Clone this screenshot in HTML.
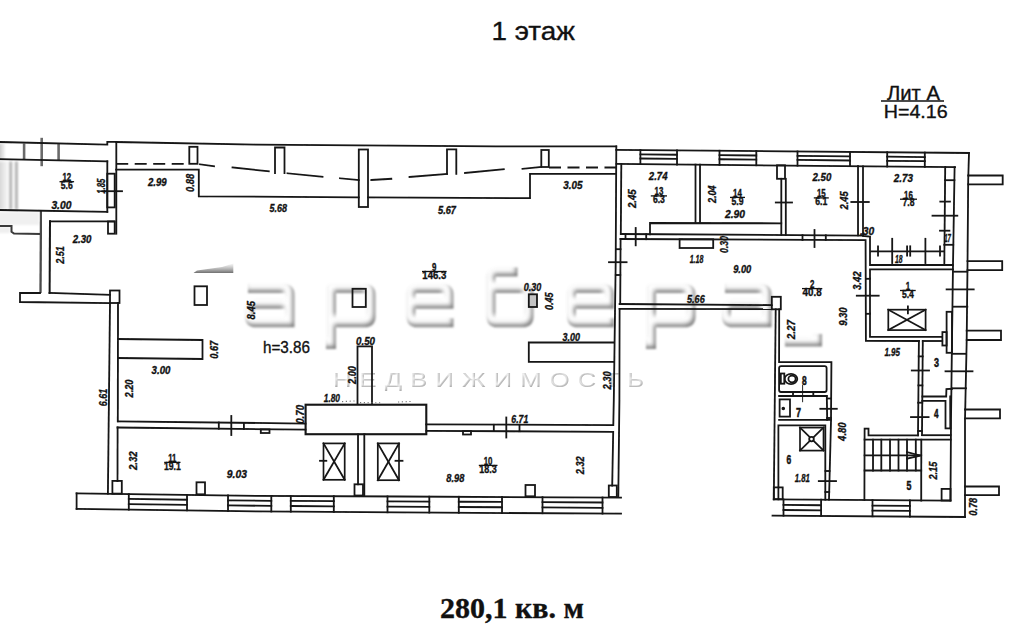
<!DOCTYPE html>
<html><head><meta charset="utf-8"><title>1 этаж</title>
<style>
html,body{margin:0;padding:0;background:#fff;}
body{width:1024px;height:638px;overflow:hidden;position:relative;font-family:"Liberation Sans",sans-serif;}
svg{position:absolute;left:0;top:0;}
.p line,.p polyline,.p rect,.p path,.p circle,.p ellipse{fill:none;stroke:#141414;stroke-width:1.8;stroke-linecap:square;}
.g line,.g polyline,.g rect{fill:none;stroke:#7a7a7a;stroke-width:1.3;}
text{font-family:"Liberation Sans",sans-serif;fill:#111;stroke:#111;stroke-width:0.35;}
.d{font-style:italic;font-weight:bold;}
.l{font-weight:bold;}
.n{font-weight:bold;stroke-width:0.55;}
.t{font-size:26px;}
.f{font-family:"Liberation Serif",serif;font-weight:bold;}
</style></head><body>
<svg width="1024" height="638" viewBox="0 0 1024 638">
<defs>
<filter id="soft" x="-2%" y="-2%" width="104%" height="104%"><feGaussianBlur stdDeviation="0.35"/></filter>
<filter id="emb" x="-5%" y="-20%" width="110%" height="140%"><feOffset in="SourceAlpha" dx="-2.4" dy="-3.2" result="o"/><feGaussianBlur in="o" stdDeviation="2.1" result="b"/><feComposite in="SourceAlpha" in2="b" operator="out" result="inner"/><feFlood flood-color="#7a7a7a"/><feComposite in2="inner" operator="in"/><feGaussianBlur stdDeviation="0.8"/></filter>
<filter id="emb2" x="-5%" y="-20%" width="110%" height="140%"><feOffset in="SourceAlpha" dx="-1.4" dy="-1.2" result="o"/><feGaussianBlur in="o" stdDeviation="0.9" result="b"/><feComposite in="SourceAlpha" in2="b" operator="out" result="inner"/><feFlood flood-color="#8a8a8a"/><feComposite in2="inner" operator="in"/><feGaussianBlur stdDeviation="0.5"/></filter>
<linearGradient id="gG" gradientUnits="userSpaceOnUse" x1="0" y1="263" x2="0" y2="273"><stop offset="0" stop-color="#9a9a9a" stop-opacity="0"/><stop offset="0.5" stop-color="#909090" stop-opacity="0.55"/><stop offset="1" stop-color="#707070" stop-opacity="1"/></linearGradient>
<linearGradient id="gl" x1="0" y1="0" x2="1" y2="0"><stop offset="0" stop-color="#b8b8b8"/><stop offset="1" stop-color="#f4f4f4"/></linearGradient>
<filter id="b1"><feGaussianBlur stdDeviation="1.2"/></filter>
<filter id="b2"><feGaussianBlur stdDeviation="0.7"/></filter>
</defs>

<path d="M 197,270.5 L 222,267 L 233.3,263.5 V 273 H 193.5 Z" fill="url(#gG)" filter="url(#b2)"/>
<g id="wm" filter="url(#emb)" fill="none" stroke="#000" stroke-width="9" stroke-linejoin="round" stroke-linecap="butt">
<path d="M 248,288.5 H 284 Q 290,288.5 290,294.5 V 322.8 M 294.5,322.8 H 255.5 Q 249.5,322.8 249.5,316.8 V 310.2 Q 249.5,304.2 255.5,304.2 H 290"/>
<path d="M 331.5,342.5 V 288.5 H 365 Q 371,288.5 371,294.5 V 316.8 Q 371,322.8 365,322.8 H 331.5 M 326,344.5 H 336" />
<path d="M 453.5,322.8 H 417.0 Q 411.0,322.8 411.0,316.8 V 294.5 Q 411.0,288.5 417.0,288.5 H 443.0 Q 449.0,288.5 449.0,294.5 V 304.2 M 453.5,304.2 H 411.0"/>
<path d="M 517.5,272 H 497.0 Q 491.0,272 491.0,278 V 316.8 Q 491.0,322.8 497.0,322.8 H 523.0 Q 529.0,322.8 529.0,316.8 V 294.5 Q 529.0,288.5 523.0,288.5 H 491.0"/>
<path d="M 614,322.8 H 577.5 Q 571.5,322.8 571.5,316.8 V 294.5 Q 571.5,288.5 577.5,288.5 H 603.5 Q 609.5,288.5 609.5,294.5 V 304.2 M 614,304.2 H 571.5"/>
<path d="M 651.5,342.5 V 288.5 H 685 Q 691,288.5 691,294.5 V 316.8 Q 691,322.8 685,322.8 H 651.5 M 646,344.5 H 656" />
<path d="M 725,288.5 H 761 Q 767,288.5 767,294.5 V 322.8 M 771.5,322.8 H 732.5 Q 726.5,322.8 726.5,316.8 V 310.2 Q 726.5,304.2 732.5,304.2 H 767"/>
<path d="M 785,342 H 817.5 V 334" stroke-linejoin="miter"/>
</g>
<g filter="url(#emb2)" opacity="0.8"><text transform="translate(333,386.5) scale(1.22,1)" font-size="21" textLength="255" lengthAdjust="spacing" style="stroke:none;fill:#000">НЕДВИЖИМОСТЬ</text></g>
<text class="t" x="491.5" y="40.4" font-size="27.3" textLength="83.5" lengthAdjust="spacingAndGlyphs">1 этаж</text>
<text class="f" x="440" y="618" font-size="28.5" textLength="144" lengthAdjust="spacingAndGlyphs">280,1 кв. м</text>
<text x="887" y="99.7" font-size="19.5" textLength="53" lengthAdjust="spacingAndGlyphs">Лит А</text>
<line x1="881" y1="100.9" x2="944" y2="100.9" stroke="#111" stroke-width="1.5"/>
<text x="883.7" y="118.1" font-size="18.7" textLength="64" lengthAdjust="spacingAndGlyphs">H=4.16</text>
<text x="263" y="352.5" font-size="16.5" textLength="47" lengthAdjust="spacingAndGlyphs">h=3.86</text>
<g filter="url(#b1)">
<rect x="-3" y="143.5" width="8" height="16.5" fill="url(#gl)"/>
<rect x="-3" y="161.5" width="11" height="48" fill="url(#gl)" opacity="0.7"/>
<rect x="9.2" y="161.5" width="3" height="48" fill="#b4b4b4"/>
<rect x="14.899999999999999" y="161.5" width="3" height="48" fill="#b4b4b4"/>
<rect x="-3" y="212" width="42" height="13" fill="#f0f0f0"/>
<rect x="-3" y="227" width="13" height="6" fill="#efefef"/>
</g>
<g class="g" filter="url(#b2)">
<line x1="24.1" y1="143.5" x2="24.1" y2="160" style="stroke-width:2.6;stroke:#6a6a6a"/>
<line x1="41.7" y1="137.8" x2="41.7" y2="166.2" style="stroke-width:2.6;stroke:#6a6a6a"/>
<line x1="58.6" y1="144" x2="58.6" y2="160.5" style="stroke-width:2.6;stroke:#6a6a6a"/>
</g>
<g class="g" filter="url(#soft)">
<polyline points="0,225.9 11.5,225.9 11.5,231.8 14,233.6 40.8,234" style="stroke-width:2;stroke:#3a3a3a"/>
<line x1="41" y1="211" x2="40.5" y2="293" style="stroke-width:2.3;stroke:#4a4a4a"/>
</g>
<g class="p" filter="url(#soft)">
<polyline points="0,142 107.3,144.6 107.3,141.9 116.3,141.9"/>
<line x1="0" y1="159.2" x2="107.3" y2="161.3"/>
<line x1="0" y1="210" x2="107.3" y2="211.8"/>
<line x1="50" y1="221.3" x2="49.6" y2="293" style="stroke-width:2"/>
<line x1="50" y1="221.3" x2="114.3" y2="221.3"/>
<line x1="107.3" y1="161.3" x2="107.3" y2="211.8"/>
<line x1="116.3" y1="141.9" x2="116.3" y2="233.7"/>
<rect x="107.3" y="173.7" width="7.4" height="33.7"/>
<line x1="102.3" y1="191.2" x2="122" y2="191.2"/>
<rect x="108" y="221.5" width="6.7" height="12.2"/>
<polyline points="116.2,142 256,144.7 496,146.3 616.2,146.3"/>
<line x1="116.2" y1="163.8" x2="189" y2="163.8" style="stroke-dasharray:12 6.5;stroke-linecap:butt"/>
<polyline points="116.2,169.7 198.8,169.7 198.8,196.3 358.7,197.3"/>
<polyline points="368,197.4 530,198.2 530,173.8 616,173.8"/>
<rect x="189.3" y="146.8" width="8.2" height="17.0"/>
<polyline points="275,173 275,147.5 284.5,147.5 284.5,173"/>
<rect x="358.8" y="149.5" width="9.2" height="57.5"/>
<polyline points="447,173.8 447,149.3 456.3,149.3 456.3,173.8"/>
<rect x="541.3" y="150" width="7.5" height="17"/>
<line x1="200" y1="164.3" x2="214" y2="166.3"/>
<line x1="232.5" y1="167.5" x2="268.8" y2="171.3"/>
<line x1="287.5" y1="173.3" x2="322.5" y2="176.8"/>
<line x1="340" y1="178.3" x2="358.8" y2="180"/>
<line x1="371.3" y1="180" x2="391.3" y2="178.8"/>
<line x1="409.5" y1="177" x2="447" y2="174"/>
<line x1="465" y1="173" x2="503.8" y2="169.3"/>
<line x1="522.5" y1="168.8" x2="541" y2="167"/>
<line x1="549" y1="167.5" x2="616" y2="167.5" style="stroke-dasharray:12 6.5;stroke-linecap:butt"/>
<polyline points="40,293 20,293 20,302 110,303.2"/>
<line x1="49.5" y1="293" x2="110" y2="294.8"/>
<rect x="110" y="290.5" width="9.5" height="12.5"/>
<line x1="110" y1="303" x2="107.9" y2="493.5"/>
<line x1="118" y1="303" x2="117.8" y2="421.3"/>
<line x1="117.6" y1="427.5" x2="117.5" y2="481"/>
<polyline points="118,339 202.5,340 202.5,359 118,358"/>
<rect x="194.5" y="286.3" width="12.5" height="18.7"/>
<rect x="352.5" y="288.8" width="13.3" height="18.2"/>
<rect x="528.8" y="294.3" width="8.2" height="12.7" style="fill:#c4c4c4"/>
<polyline points="357.5,403.8 357.5,346.3 372,346.3 372,403.8"/>
<rect x="305.6" y="404.7" width="120.7" height="29.5" style="stroke-width:2.1"/>
<polyline points="613.8,342.5 528.8,342.5 528.8,361.8 613.6,361.8"/>
<line x1="118" y1="421.3" x2="305.5" y2="423.6"/>
<line x1="117.5" y1="427.5" x2="305.5" y2="429.7"/>
<line x1="218.8" y1="422.5" x2="218.8" y2="428.7"/>
<line x1="243.9" y1="422.8" x2="243.9" y2="429"/>
<line x1="231.3" y1="416" x2="231.3" y2="435"/>
<rect x="260.8" y="429.5" width="8.7" height="3.5"/>
<line x1="426.3" y1="424.3" x2="613" y2="425.2"/>
<line x1="426.3" y1="430.8" x2="612" y2="431.8"/>
<line x1="493.8" y1="424.8" x2="493.8" y2="431"/>
<line x1="519.5" y1="424.8" x2="519.5" y2="431.2"/>
<line x1="506.3" y1="417.5" x2="506.3" y2="437.5"/>
<rect x="463" y="431" width="8" height="3.5"/>
<line x1="358" y1="434.5" x2="358" y2="484.3"/>
<line x1="364.3" y1="434.5" x2="364.3" y2="495.5"/>
<rect x="354.5" y="484.3" width="8.5" height="11.2"/>
<rect x="323.5" y="443.4" width="21.2" height="36.4" style="stroke-width:1.7"/>
<line x1="323.5" y1="443.4" x2="344.7" y2="479.8"/>
<line x1="323.5" y1="479.8" x2="344.7" y2="443.4"/>
<rect x="377.8" y="443.4" width="21.2" height="36.8" style="stroke-width:1.7"/>
<line x1="377.8" y1="443.4" x2="399" y2="480.2"/>
<line x1="377.8" y1="480.2" x2="399" y2="443.4"/>
<line x1="320" y1="460.8" x2="326.3" y2="460.8"/>
<line x1="395.5" y1="460.8" x2="402.5" y2="460.8"/>
<polyline points="76.6,493.4 256,495.9 400,496.5 621,497.6"/>
<polyline points="76.6,508.9 256,511.4 400,512.4 621,513.7"/>
<line x1="76.6" y1="493.4" x2="76.6" y2="508.9"/>
<line x1="128.8" y1="494.13" x2="128.8" y2="509.63"/>
<line x1="187" y1="494.94" x2="187" y2="510.44"/>
<line x1="128.8" y1="498.94" x2="187" y2="499.75"/>
<line x1="128.8" y1="504.05" x2="187" y2="504.86"/>
<line x1="228" y1="495.51" x2="228" y2="511.01"/>
<line x1="271.3" y1="495.96" x2="271.3" y2="511.51"/>
<line x1="228" y1="500.31" x2="271.3" y2="500.78"/>
<line x1="228" y1="505.43" x2="271.3" y2="505.91"/>
<line x1="290.8" y1="496.04" x2="290.8" y2="511.64"/>
<line x1="333.8" y1="496.22" x2="333.8" y2="511.94"/>
<line x1="290.8" y1="500.88" x2="333.8" y2="501.09"/>
<line x1="290.8" y1="506.02" x2="333.8" y2="506.28"/>
<line x1="387.5" y1="496.45" x2="387.5" y2="512.31"/>
<line x1="429.3" y1="496.65" x2="429.3" y2="512.57"/>
<line x1="387.5" y1="501.37" x2="429.3" y2="501.59"/>
<line x1="387.5" y1="506.6" x2="429.3" y2="506.84"/>
<line x1="458.8" y1="496.79" x2="458.8" y2="512.75"/>
<line x1="502" y1="497.01" x2="502" y2="513.0"/>
<line x1="458.8" y1="501.74" x2="502" y2="501.97"/>
<line x1="458.8" y1="507.0" x2="502" y2="507.24"/>
<line x1="542.5" y1="497.21" x2="542.5" y2="513.24"/>
<line x1="602.5" y1="497.51" x2="602.5" y2="513.59"/>
<line x1="542.5" y1="502.18" x2="602.5" y2="502.49"/>
<line x1="542.5" y1="507.47" x2="602.5" y2="507.8"/>
<rect x="112.4" y="480.9" width="9.4" height="12.7"/>
<rect x="196.5" y="482.3" width="8.5" height="12.0"/>
<rect x="525.5" y="485" width="9.5" height="11.3"/>
<rect x="608.8" y="485.5" width="8.0" height="11.5"/>
<polyline points="616.3,146.3 615.7,262 613.8,400 613.3,425.2"/>
<polyline points="613.2,431.8 612.2,485.5"/>
<polyline points="621.3,164 620.8,234"/>
<polyline points="620.6,239 620.2,304"/>
<polyline points="619.6,308.8 619.4,400 618.3,496"/>
<line x1="616" y1="249.2" x2="620.5" y2="249.2"/>
<line x1="615.8" y1="275" x2="620.3" y2="275"/>
<line x1="609" y1="262.2" x2="626.6" y2="262.2"/>
<polyline points="616.3,149.8 969,153"/>
<polyline points="616.5,163.9 955,167.2"/>
<line x1="640.4" y1="150.02" x2="640.4" y2="164.13"/>
<line x1="677" y1="150.35" x2="677" y2="164.49"/>
<line x1="640.4" y1="154.39" x2="677" y2="154.73"/>
<line x1="640.4" y1="158.49" x2="677" y2="158.83"/>
<line x1="719.5" y1="150.74" x2="719.5" y2="164.9"/>
<line x1="756.3" y1="151.07" x2="756.3" y2="165.26"/>
<line x1="719.5" y1="155.13" x2="756.3" y2="155.47"/>
<line x1="719.5" y1="159.24" x2="756.3" y2="159.58"/>
<line x1="797.5" y1="151.44" x2="797.5" y2="165.66"/>
<line x1="850" y1="151.92" x2="850" y2="166.18"/>
<line x1="797.5" y1="155.85" x2="850" y2="156.34"/>
<line x1="797.5" y1="159.97" x2="850" y2="160.48"/>
<line x1="887.2" y1="152.26" x2="887.2" y2="166.54"/>
<line x1="924.8" y1="152.6" x2="924.8" y2="166.91"/>
<line x1="887.2" y1="156.69" x2="924.8" y2="157.04"/>
<line x1="887.2" y1="160.83" x2="924.8" y2="161.19"/>
<polyline points="969,153 968.2,180 967.5,265 966.7,340 965,420 965,517"/>
<polyline points="954.6,167.2 953,265 952,340 951,420 950.5,500.5"/>
<polyline points="945.2,167 944.3,265"/>
<line x1="945.2" y1="180.2" x2="954.4" y2="180.2"/>
<polyline points="968.2,175.5 1002.7,175.5 1002.7,184.4 968.2,184.4"/>
<polyline points="967.5,261.2 1002.2,261.2 1002.2,270.2 967.5,270.2"/>
<polyline points="966.7,330.6 1001,330.6 1001,340 966.7,340"/>
<polyline points="965,409.5 1000,409.5 1000,418.4 965,418.4"/>
<polyline points="965,486.5 999,486.5 999,495.1 965,495.1"/>
<line x1="940.3" y1="201.6" x2="949.9" y2="201.6"/>
<line x1="932.5" y1="215.7" x2="957.3" y2="215.7"/>
<line x1="940" y1="230.7" x2="949.4" y2="230.7"/>
<line x1="944.3" y1="244.8" x2="953.2" y2="244.8"/>
<line x1="953" y1="271.7" x2="967.3" y2="271.7"/>
<line x1="953" y1="306.7" x2="967.3" y2="306.7"/>
<line x1="952" y1="353.8" x2="966" y2="353.8"/>
<line x1="952" y1="388.3" x2="966" y2="388.3"/>
<line x1="946.6" y1="289.4" x2="973.7" y2="289.4"/>
<line x1="945.5" y1="371.3" x2="972.5" y2="371.3"/>
<line x1="695.5" y1="164.6" x2="695.5" y2="223"/>
<line x1="700" y1="164.6" x2="700" y2="223"/>
<polyline points="650,234.3 650,223 781.3,223.3"/>
<line x1="781.3" y1="178.8" x2="781.3" y2="235"/>
<line x1="785.8" y1="178.8" x2="785.8" y2="235"/>
<rect x="777" y="165.3" width="8" height="13.5"/>
<line x1="858" y1="166.2" x2="858" y2="235.3"/>
<polyline points="863,166.3 863,236 870,236.5 870,265 952.8,265"/>
<line x1="621" y1="234" x2="863" y2="235.6"/>
<polyline points="620.5,239 865.6,240.2 865.9,340.8 918.9,341"/>
<line x1="625.5" y1="234.2" x2="625.5" y2="239"/>
<line x1="646.2" y1="234.3" x2="646.2" y2="239.2"/>
<line x1="635.7" y1="228" x2="635.7" y2="245.3"/>
<line x1="802.5" y1="235.2" x2="802.5" y2="240"/>
<line x1="825.8" y1="235.3" x2="825.8" y2="240"/>
<line x1="814.5" y1="230" x2="814.5" y2="247"/>
<line x1="775.8" y1="202.5" x2="792" y2="202.5"/>
<line x1="851.3" y1="202" x2="868.8" y2="202"/>
<rect x="679.6" y="239.3" width="33.6" height="8.7"/>
<line x1="871" y1="251.3" x2="944" y2="251.3"/>
<line x1="878" y1="246.3" x2="878" y2="255.7"/>
<line x1="907.1" y1="246.3" x2="907.1" y2="255.7"/>
<line x1="910.2" y1="246.3" x2="910.2" y2="255.7"/>
<line x1="940" y1="246.3" x2="940" y2="255.7"/>
<line x1="892.2" y1="238.8" x2="892.2" y2="263"/>
<line x1="925.4" y1="238.8" x2="925.4" y2="263"/>
<polyline points="952.8,269.4 870,269.4 870,336.8 942,336.8"/>
<line x1="922.8" y1="341" x2="942.2" y2="341"/>
<line x1="866" y1="278.8" x2="870" y2="278.8"/>
<line x1="866" y1="313.8" x2="870" y2="313.8"/>
<line x1="856.8" y1="295.7" x2="878.7" y2="295.7"/>
<rect x="888.3" y="309.7" width="37.3" height="20.4" style="stroke-width:1.7"/>
<line x1="888.3" y1="309.7" x2="925.6" y2="330.1"/>
<line x1="888.3" y1="330.1" x2="925.6" y2="309.7"/>
<line x1="907.9" y1="306.3" x2="907.9" y2="313.3"/>
<rect x="946.6" y="311.8" width="5.4" height="41.0"/>
<rect x="942.4" y="332.1" width="4.2" height="13.4"/>
<line x1="619.6" y1="304" x2="771.8" y2="305.1"/>
<line x1="619.6" y1="308.8" x2="771.8" y2="309.1"/>
<rect x="771.8" y="296.8" width="9.0" height="12.5"/>
<line x1="775.7" y1="309.3" x2="773.8" y2="499.4"/>
<polyline points="779.2,309.3 779.1,362.2 831.4,362.2 831,421 829,499.6"/>
<rect x="779.1" y="366.1" width="47.5" height="25.9" rx="2"/>
<polyline points="779.1,396 826.6,396"/>
<polyline points="826.8,396 827.2,419.8"/>
<line x1="779.1" y1="419.8" x2="831" y2="419.8"/>
<line x1="793" y1="392" x2="793" y2="396"/>
<line x1="813.3" y1="392" x2="813.3" y2="396"/>
<line x1="802.6" y1="385.3" x2="802.6" y2="401.7" style="stroke-width:0.9"/>
<line x1="827" y1="398.5" x2="831" y2="398.5"/>
<line x1="827" y1="418" x2="831" y2="418"/>
<line x1="820.3" y1="408.8" x2="836.8" y2="408.8"/>
<rect x="779.6" y="399.4" width="10.4" height="17.2"/>
<circle cx="783.3" cy="408.5" r="0.9" style="fill:#111"/>
<rect x="780.8" y="373.5" width="3.5" height="10.2"/>
<ellipse cx="791" cy="379" rx="6.3" ry="5.2"/>
<ellipse cx="792" cy="379" rx="3.6" ry="3.3"/>
<polyline points="778.4,499.4 778.4,425.3 825.3,425.3 825.3,499.5"/>
<rect x="800" y="427.6" width="23.5" height="23.0" style="stroke-width:1.7"/>
<line x1="800" y1="427.6" x2="823.5" y2="450.6"/>
<line x1="800" y1="450.6" x2="823.5" y2="427.6"/>
<circle cx="811.5" cy="439.1" r="2.3" style="fill:#fff"/>
<line x1="825.5" y1="471" x2="829.5" y2="471"/>
<line x1="825.4" y1="492" x2="829.2" y2="492"/>
<line x1="818.8" y1="481.1" x2="836" y2="481.1"/>
<rect x="773.8" y="487.4" width="8.9" height="11.8"/>
<polyline points="773.8,499.4 950.5,500.6"/>
<polyline points="772.5,515.6 965,517"/>
<line x1="783.5" y1="499.47" x2="783.5" y2="515.68"/>
<line x1="821.1" y1="499.72" x2="821.1" y2="515.95"/>
<line x1="783.5" y1="504.98" x2="821.1" y2="505.24"/>
<line x1="783.5" y1="510.01" x2="821.1" y2="510.27"/>
<line x1="872.5" y1="500.07" x2="872.5" y2="516.33"/>
<line x1="909.9" y1="500.32" x2="909.9" y2="516.6"/>
<line x1="872.5" y1="505.6" x2="909.9" y2="505.86"/>
<line x1="872.5" y1="510.64" x2="909.9" y2="510.9"/>
<rect x="941.6" y="488.9" width="8.9" height="11.6"/>
<line x1="918.9" y1="341" x2="918" y2="435.4"/>
<line x1="922.8" y1="341" x2="922" y2="435.2"/>
<line x1="918.7" y1="356.4" x2="922.7" y2="356.4"/>
<line x1="918.4" y1="385.4" x2="922.4" y2="385.4"/>
<line x1="911.8" y1="370.5" x2="929" y2="370.5"/>
<line x1="918.2" y1="402.7" x2="922.2" y2="402.7"/>
<line x1="918" y1="431" x2="922" y2="431"/>
<line x1="911" y1="417.1" x2="928.6" y2="417.1"/>
<polyline points="952,388.8 946.4,389 946.2,396.5 922.4,396.5"/>
<polyline points="922.3,400.8 945.5,400.8 945.5,428.3 950.3,428.3"/>
<line x1="950.2" y1="396.5" x2="950.3" y2="428.3"/>
<line x1="922.2" y1="435.2" x2="950.6" y2="435.2"/>
<line x1="864.6" y1="439.6" x2="950.6" y2="439.6"/>
<polyline points="864.4,500 864.6,428.6 868.5,428.6 868.5,435.4 918,435.4"/>
<line x1="873" y1="439.6" x2="873" y2="470.5"/>
<line x1="881.3" y1="439.6" x2="881.3" y2="470.5"/>
<line x1="890" y1="439.6" x2="890" y2="470.5"/>
<line x1="898.5" y1="439.6" x2="898.5" y2="470.5"/>
<line x1="907" y1="439.6" x2="907" y2="470.5"/>
<line x1="915.8" y1="439.6" x2="915.8" y2="470.5"/>
<line x1="864.6" y1="455.3" x2="921.2" y2="455.3"/>
<line x1="864.6" y1="470.5" x2="921.2" y2="470.5"/>
<line x1="921.3" y1="439.6" x2="921.2" y2="500.5"/>
<polyline points="907,452 920.4,455.5 907,458.6"/>
</g>
<g style="stroke:#777;stroke-width:1.1;stroke-dasharray:1.2 2.6;fill:none">
<line x1="342" y1="401.6" x2="357" y2="400.8"/>
<line x1="360" y1="402.6" x2="381" y2="402.8"/>
<line x1="398" y1="402" x2="412" y2="401.4"/>
</g>
<g>
<text class="d" x="148" y="185.5" font-size="11.4" textLength="18.7" lengthAdjust="spacingAndGlyphs">2.99</text>
<text class="d" x="51.4" y="208.5" font-size="11.4" textLength="20.0" lengthAdjust="spacingAndGlyphs">3.00</text>
<text class="d" x="72.7" y="242.5" font-size="11.4" textLength="18.8" lengthAdjust="spacingAndGlyphs">2.30</text>
<text class="d" x="269.5" y="212.3" font-size="11.4" textLength="17.5" lengthAdjust="spacingAndGlyphs">5.68</text>
<text class="d" x="438" y="213.8" font-size="11.4" textLength="18" lengthAdjust="spacingAndGlyphs">5.67</text>
<text class="d" x="563.3" y="188.8" font-size="11.4" textLength="19.2" lengthAdjust="spacingAndGlyphs">3.05</text>
<text class="d" x="151.6" y="373.5" font-size="11.4" textLength="18.8" lengthAdjust="spacingAndGlyphs">3.00</text>
<text class="d" x="562.5" y="340.5" font-size="11.4" textLength="17.5" lengthAdjust="spacingAndGlyphs">3.00</text>
<text class="d" x="356" y="345" font-size="11.4" textLength="19" lengthAdjust="spacingAndGlyphs">0.50</text>
<text class="d" x="323.8" y="401.8" font-size="11.4" textLength="16.2" lengthAdjust="spacingAndGlyphs">1.80</text>
<text class="d" x="523.8" y="291.3" font-size="11.4" textLength="17.5" lengthAdjust="spacingAndGlyphs">0.30</text>
<text class="d" x="226.8" y="478" font-size="11.4" textLength="20.1" lengthAdjust="spacingAndGlyphs">9.03</text>
<text class="d" x="446.3" y="482" font-size="11.4" textLength="18.0" lengthAdjust="spacingAndGlyphs">8.98</text>
<text class="d" x="511.3" y="423" font-size="11.4" textLength="17.0" lengthAdjust="spacingAndGlyphs">6.71</text>
<text class="d" x="687" y="302.5" font-size="11.4" textLength="17.7" lengthAdjust="spacingAndGlyphs">5.66</text>
<text class="d" x="648.8" y="180" font-size="11.4" textLength="18.7" lengthAdjust="spacingAndGlyphs">2.74</text>
<text class="d" x="725" y="218" font-size="11.4" textLength="20" lengthAdjust="spacingAndGlyphs">2.90</text>
<text class="d" x="812.5" y="181.3" font-size="11.4" textLength="18.8" lengthAdjust="spacingAndGlyphs">2.50</text>
<text class="d" x="893.8" y="182" font-size="11.4" textLength="19.2" lengthAdjust="spacingAndGlyphs">2.73</text>
<text class="d" x="689.7" y="262.8" font-size="11.4" textLength="13.7" lengthAdjust="spacingAndGlyphs">1.18</text>
<text class="d" x="733.2" y="273.2" font-size="11.4" textLength="18.1" lengthAdjust="spacingAndGlyphs">9.00</text>
<text class="d" x="860" y="235" font-size="11.4" textLength="14.3" lengthAdjust="spacingAndGlyphs">.30</text>
<text class="d" x="884.4" y="355.6" font-size="11.4" textLength="15.6" lengthAdjust="spacingAndGlyphs">1.95</text>
<text class="d" x="794.8" y="481.6" font-size="11.4" textLength="15.0" lengthAdjust="spacingAndGlyphs">1.81</text>
<text class="d" x="895" y="262.5" font-size="11.4" textLength="7.5" lengthAdjust="spacingAndGlyphs">18</text>
<text class="d" x="944.2" y="241.5" font-size="11.4" textLength="6.8" lengthAdjust="spacingAndGlyphs">17</text>
<text class="d" transform="translate(104.8,193.8) rotate(-90)" font-size="11.4" textLength="15.0" lengthAdjust="spacingAndGlyphs">1.85</text>
<text class="d" transform="translate(194.2,192) rotate(-90)" font-size="11.4" textLength="18.2" lengthAdjust="spacingAndGlyphs">0.88</text>
<text class="d" transform="translate(63.9,263.8) rotate(-90)" font-size="11.4" textLength="17.5" lengthAdjust="spacingAndGlyphs">2.51</text>
<text class="d" transform="translate(254.5,319.5) rotate(-90)" font-size="11.4" textLength="18.5" lengthAdjust="spacingAndGlyphs">8.45</text>
<text class="d" transform="translate(217.5,358.8) rotate(-90)" font-size="11.4" textLength="18.0" lengthAdjust="spacingAndGlyphs">0.67</text>
<text class="d" transform="translate(106.8,406.3) rotate(-90)" font-size="11.4" textLength="17.5" lengthAdjust="spacingAndGlyphs">6.61</text>
<text class="d" transform="translate(133.3,397.5) rotate(-90)" font-size="11.4" textLength="18.0" lengthAdjust="spacingAndGlyphs">2.20</text>
<text class="d" transform="translate(136.6,470) rotate(-90)" font-size="11.4" textLength="18.7" lengthAdjust="spacingAndGlyphs">2.32</text>
<text class="d" transform="translate(355.5,384) rotate(-90)" font-size="11.4" textLength="18" lengthAdjust="spacingAndGlyphs">2.00</text>
<text class="d" transform="translate(303.8,423.8) rotate(-90)" font-size="11.4" textLength="18.8" lengthAdjust="spacingAndGlyphs">0.70</text>
<text class="d" transform="translate(552.5,310) rotate(-90)" font-size="11.4" textLength="17.5" lengthAdjust="spacingAndGlyphs">0.45</text>
<text class="d" transform="translate(611,389.5) rotate(-90)" font-size="11.4" textLength="18.2" lengthAdjust="spacingAndGlyphs">2.30</text>
<text class="d" transform="translate(583.8,474.3) rotate(-90)" font-size="11.4" textLength="18.0" lengthAdjust="spacingAndGlyphs">2.32</text>
<text class="d" transform="translate(636.3,208) rotate(-90)" font-size="11.4" textLength="18.7" lengthAdjust="spacingAndGlyphs">2.45</text>
<text class="d" transform="translate(715.5,203) rotate(-90)" font-size="11.4" textLength="17.5" lengthAdjust="spacingAndGlyphs">2.04</text>
<text class="d" transform="translate(847.5,209.5) rotate(-90)" font-size="11.4" textLength="18.2" lengthAdjust="spacingAndGlyphs">2.45</text>
<text class="d" transform="translate(727.7,253) rotate(-90)" font-size="11.4" textLength="17" lengthAdjust="spacingAndGlyphs">0.30</text>
<text class="d" transform="translate(861.3,290) rotate(-90)" font-size="11.4" textLength="18.7" lengthAdjust="spacingAndGlyphs">3.42</text>
<text class="d" transform="translate(846.6,325.8) rotate(-90)" font-size="11.4" textLength="18.4" lengthAdjust="spacingAndGlyphs">9.30</text>
<text class="d" transform="translate(794.9,339.2) rotate(-90)" font-size="11.4" textLength="19.2" lengthAdjust="spacingAndGlyphs">2.27</text>
<text class="d" transform="translate(845.9,440.9) rotate(-90)" font-size="11.4" textLength="18.5" lengthAdjust="spacingAndGlyphs">4.80</text>
<text class="d" transform="translate(937.4,479.5) rotate(-90)" font-size="11.4" textLength="17.7" lengthAdjust="spacingAndGlyphs">2.15</text>
<text class="d" transform="translate(976.5,515.8) rotate(-90)" font-size="11.4" textLength="18.0" lengthAdjust="spacingAndGlyphs">0.78</text>
<text class="l" transform="translate(434.3,271.0) scale(0.76,1)" font-size="10.4" text-anchor="middle">9</text>
<line x1="422" y1="271.5" x2="446.6" y2="271.5" stroke="#111" stroke-width="1.3"/>
<text class="l" transform="translate(434.3,278.6) scale(0.932,1)" font-size="10.3" text-anchor="middle">146.3</text>
<text class="l" transform="translate(172.3,461.9) scale(0.76,1)" font-size="10.4" text-anchor="middle">11</text>
<line x1="164.2" y1="462.40000000000003" x2="180.5" y2="462.40000000000003" stroke="#111" stroke-width="1.3"/>
<text class="l" transform="translate(172.3,469.5) scale(0.84,1)" font-size="10.3" text-anchor="middle">19.1</text>
<text class="l" transform="translate(488.1,464.9) scale(0.76,1)" font-size="10.4" text-anchor="middle">10</text>
<line x1="478.8" y1="465.40000000000003" x2="497.5" y2="465.40000000000003" stroke="#111" stroke-width="1.3"/>
<text class="l" transform="translate(488.1,472.5) scale(0.873,1)" font-size="10.3" text-anchor="middle">18.3</text>
<text class="l" transform="translate(658.9,195.4) scale(0.76,1)" font-size="10.4" text-anchor="middle">13</text>
<line x1="650.8" y1="195.9" x2="667" y2="195.9" stroke="#111" stroke-width="1.3"/>
<text class="l" transform="translate(658.9,203) scale(0.84,1)" font-size="10.3" text-anchor="middle">6.3</text>
<text class="l" transform="translate(737.5,196.9) scale(0.76,1)" font-size="10.4" text-anchor="middle">14</text>
<line x1="730" y1="197.4" x2="745" y2="197.4" stroke="#111" stroke-width="1.3"/>
<text class="l" transform="translate(737.5,204.5) scale(0.84,1)" font-size="10.3" text-anchor="middle">5.9</text>
<text class="l" transform="translate(821.3,197.4) scale(0.76,1)" font-size="10.4" text-anchor="middle">15</text>
<line x1="813.8" y1="197.9" x2="828.8" y2="197.9" stroke="#111" stroke-width="1.3"/>
<text class="l" transform="translate(821.3,205) scale(0.84,1)" font-size="10.3" text-anchor="middle">6.1</text>
<text class="l" transform="translate(908.5,198.7) scale(0.76,1)" font-size="10.4" text-anchor="middle">16</text>
<line x1="900" y1="199.20000000000002" x2="917" y2="199.20000000000002" stroke="#111" stroke-width="1.3"/>
<text class="l" transform="translate(908.5,206.3) scale(0.84,1)" font-size="10.3" text-anchor="middle">7.8</text>
<text class="l" transform="translate(812.1,288.1) scale(0.76,1)" font-size="10.4" text-anchor="middle">2</text>
<line x1="802" y1="288.6" x2="822.3" y2="288.6" stroke="#111" stroke-width="1.3"/>
<text class="l" transform="translate(812.1,295.7) scale(0.948,1)" font-size="10.3" text-anchor="middle">40.8</text>
<text class="l" transform="translate(907.9,290.0) scale(0.76,1)" font-size="10.4" text-anchor="middle">1</text>
<line x1="900" y1="290.5" x2="915.7" y2="290.5" stroke="#111" stroke-width="1.3"/>
<text class="l" transform="translate(907.9,297.6) scale(0.84,1)" font-size="10.3" text-anchor="middle">5.4</text>
<text class="l" transform="translate(66.8,181.2) scale(0.76,1)" font-size="10.4" text-anchor="middle">12</text>
<line x1="59.5" y1="181.70000000000002" x2="74.1" y2="181.70000000000002" stroke="#111" stroke-width="1.3"/>
<text class="l" transform="translate(66.8,188.8) scale(0.84,1)" font-size="10.3" text-anchor="middle">5.6</text>
<text class="n" x="934" y="366.6" font-size="13" textLength="5" lengthAdjust="spacingAndGlyphs">3</text>
<text class="n" x="934" y="418.4" font-size="13" textLength="4.5" lengthAdjust="spacingAndGlyphs">4</text>
<text class="n" x="906.6" y="490.4" font-size="13" textLength="4.9" lengthAdjust="spacingAndGlyphs">5</text>
<text class="n" x="786.6" y="463.6" font-size="13" textLength="4.7" lengthAdjust="spacingAndGlyphs">6</text>
<text class="n" x="796" y="416.6" font-size="13" textLength="5" lengthAdjust="spacingAndGlyphs">7</text>
<text class="n" x="802" y="384.5" font-size="13" textLength="4.7" lengthAdjust="spacingAndGlyphs">8</text>
</g>
</svg></body></html>
